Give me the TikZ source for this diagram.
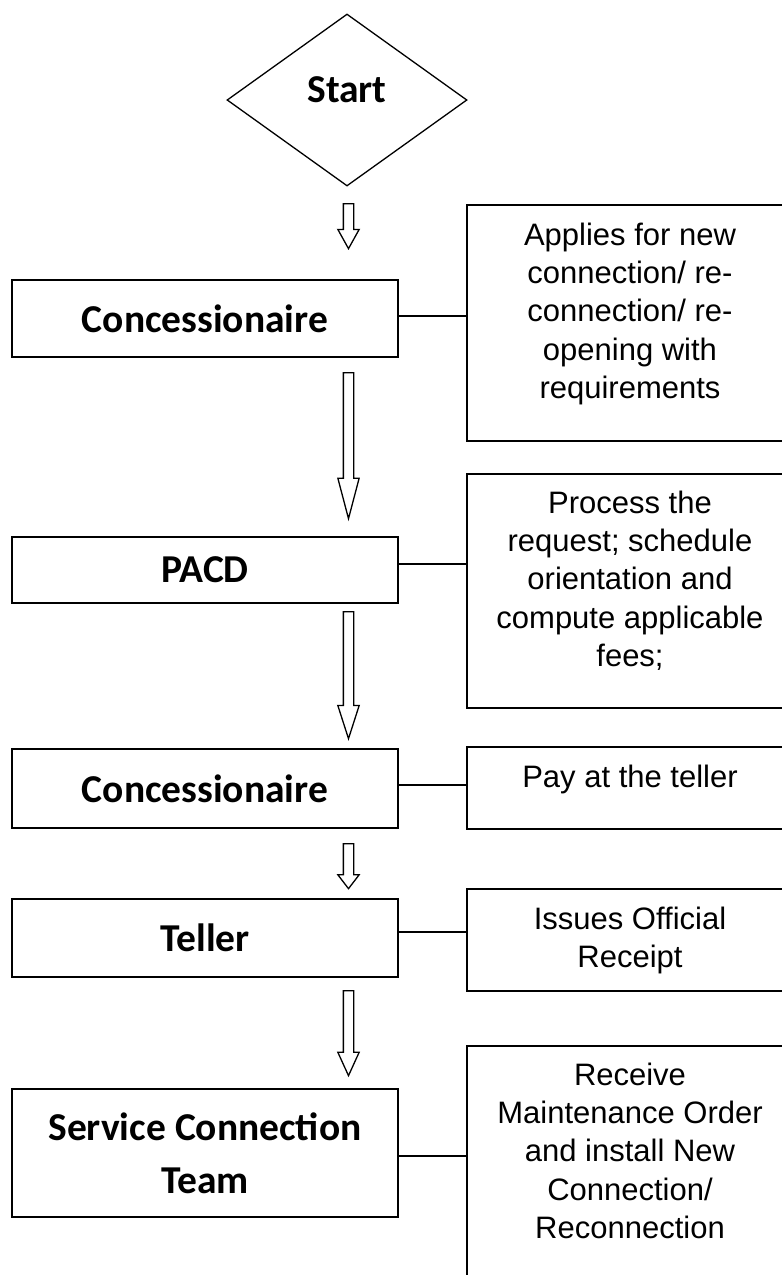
\documentclass[tikz,border=0pt]{standalone}
\usepackage{fontspec}
\setmainfont{Liberation Sans}
\newfontfamily\calib{Carlito}
\usetikzlibrary{shapes.geometric,shapes.arrows}
\tikzset{
  leftbox/.style={draw, line width=1.8pt, rectangle, minimum width=386pt, inner sep=0pt,
    font=\calib\bfseries\fontsize{39.5}{53}\selectfont, align=center},
  rightbox/.style={draw, line width=1.8pt, rectangle, minimum width=340pt, inner sep=0pt, anchor=north west},
  righttext/.style={anchor=north, inner sep=0pt, align=center, font=\fontsize{31}{38.3}\selectfont},
  barrow/.style={single arrow, draw, line width=1.3pt, shape border rotate=270, inner sep=4.5pt,
    single arrow head extend=5.5pt, anchor=tail},
  link/.style={line width=1.5pt}
}
\begin{document}
\begin{tikzpicture}[x=1pt,y=-1pt]
\clip (0,0) rectangle (782,1275);
\fill[white] (0,0) rectangle (782,1275);
% start
\node[diamond, draw, line width=1.3pt, minimum width=240pt, minimum height=172pt, inner sep=0pt] (st) at (347,100) {};
\node[font=\calib\bfseries\fontsize{39.5}{47}\selectfont, inner sep=0pt] (stl) at ([yshift=10pt]st.center) {Start};
% left boxes
\node[leftbox, minimum height=77pt] (b1) at (205,318.5) {Concessionaire};
\node[leftbox, minimum height=66pt] (b2) at (205,570) {PACD};
\node[leftbox, minimum height=79pt] (b3) at (205,788.5) {Concessionaire};
\node[leftbox, minimum height=78pt] (b4) at (205,938) {Teller};
\node[leftbox, minimum height=128pt] (b5) at (205,1153) {Service Connection\\Team};
% right boxes
\node[rightbox, minimum height=236pt] (r1) at (466,204) {};
\node[rightbox, minimum height=234pt] (r2) at (466,473) {};
\node[rightbox, minimum height=82pt] (r3) at (466,746) {};
\node[rightbox, minimum height=102pt] (r4) at (466,888) {};
\node[rightbox, minimum height=260pt] (r5) at (466,1045) {};
% right texts
\node[righttext] (t1) at (630,221) {\rule{0pt}{24pt}Applies for new\\connection/ re-\\connection/ re-\\opening with\\requirements};
\node[righttext] (t2) at (630,489) {\rule{0pt}{24pt}Process the\\request; schedule\\orientation and\\compute applicable\\fees;};
\node[righttext] (t3) at (630,763) {\rule{0pt}{24pt}Pay at the teller};
\node[righttext] (t4) at (630,905) {\rule{0pt}{24pt}Issues Official\\Receipt};
\node[righttext] (t5) at (630,1061) {\rule{0pt}{24pt}Receive\\Maintenance Order\\and install New\\Connection/\\Reconnection};
% connectors
\draw[link] ([yshift=2.5pt]b1.east) -- ([yshift=2.5pt]b1.east -| r1.west);
\draw[link] ([yshift=6pt]b2.east) -- ([yshift=6pt]b2.east -| r2.west);
\draw[link] ([yshift=3.5pt]b3.east) -- ([yshift=3.5pt]b3.east -| r3.west);
\draw[link] ([yshift=6pt]b4.east) -- ([yshift=6pt]b4.east -| r4.west);
\draw[link] ([yshift=-3pt]b5.east) -- ([yshift=-3pt]b5.east -| r5.west);
% block arrows
\node[barrow, minimum height=45pt, single arrow tip angle=58] (a1) at (348.5,203) {};
\node[barrow, minimum height=146pt, single arrow tip angle=29.5] (a2) at (348.5,372) {};
\node[barrow, minimum height=127pt, single arrow tip angle=35.7] (a3) at (348.5,611) {};
\node[barrow, minimum height=45pt, single arrow tip angle=75] (a4) at (348.5,843) {};
\node[barrow, minimum height=85pt, single arrow tip angle=49] (a5) at (348.5,990) {};
\end{tikzpicture}
\end{document}
